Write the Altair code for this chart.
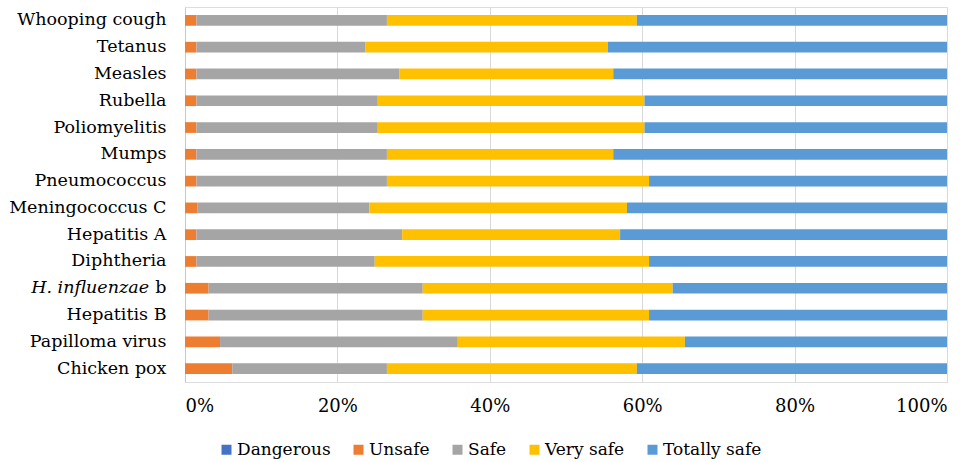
import altair as alt
import pandas as pd

# Vaccines, top to bottom
vaccines = [
    "Whooping cough", "Tetanus", "Measles", "Rubella", "Poliomyelitis",
    "Mumps", "Pneumococcus", "Meningococcus C", "Hepatitis A", "Diphtheria",
    "H. influenzae b", "Hepatitis B", "Papilloma virus", "Chicken pox",
]
ratings = ["Dangerous", "Unsafe", "Safe", "Very safe", "Totally safe"]
palette = ["#4472C4", "#ED7D31", "#A5A5A5", "#FFC000", "#5B9BD5"]

# Share of answers (%) per rating, one entry per vaccine
dangerous = [0, 0, 0, 0, 0, 0, 0, 0, 0, 0, 0, 0, 0, 0]
unsafe = [1.5, 1.5, 1.5, 1.5, 1.5, 1.5, 1.5, 1.6, 1.5, 1.5, 3.1, 3.1, 4.6, 6.2]
safe = [25.0, 22.2, 26.6, 23.8, 23.8, 25.0, 25.0, 22.6, 27.0, 23.4, 28.1, 28.1, 31.2, 20.3]
very_safe = [32.8, 31.8, 28.1, 35.0, 35.0, 29.7, 34.4, 33.8, 28.6, 36.0, 32.8, 29.7, 29.8, 32.8]
totally_safe = [40.7, 44.5, 43.8, 39.7, 39.7, 43.8, 39.1, 42.0, 42.9, 39.1, 36.0, 39.1, 34.4, 40.7]

series = [dangerous, unsafe, safe, very_safe, totally_safe]
rows = []
for k, (rating, values) in enumerate(zip(ratings, series)):
    for vaccine, v in zip(vaccines, values):
        rows.append({"vaccine": vaccine, "rating": rating, "order": k, "share": v})
df = pd.DataFrame(rows)

FONT = "DejaVu Serif"
FS = 17.5
ITALIC_NAME = "H. influenzae b"

y_enc = alt.Y(
    "vaccine:N",
    sort=vaccines,
    title=None,
    scale=alt.Scale(paddingInner=0.6, paddingOuter=0.3),
    axis=alt.Axis(
        labelFont=FONT, labelFontSize=FS, labelColor="#000000",
        labelPadding=19, ticks=False, domainColor="#C8C8C8", domainWidth=1,
        labelExpr=f"datum.value == '{ITALIC_NAME}' ? 'b' : datum.value",
        grid=False,
    ),
)

bars = alt.Chart(df).mark_bar().encode(
    y=y_enc,
    x=alt.X(
        "share:Q",
        stack="normalize",
        title=None,
        scale=alt.Scale(domain=[0, 1], nice=False),
        axis=alt.Axis(
            values=[0, 0.2, 0.4, 0.6, 0.8, 1.0], format=".0%",
            labelFont=FONT, labelFontSize=18, labelColor="#000000",
            labelPadding=15, ticks=False, domain=False,
            grid=True, gridColor="#D9D9D9", gridWidth=1,
        ),
    ),
    color=alt.Color(
        "rating:N",
        sort=ratings,
        title=None,
        scale=alt.Scale(domain=ratings, range=palette),
        legend=alt.Legend(
            orient="none", direction="horizontal", legendX=33, legendY=434,
            labelFont=FONT, labelFontSize=17, labelColor="#000000",
            symbolType="square", symbolSize=100, symbolStrokeWidth=0,
            labelOffset=2, columnPadding=19, padding=0,
        ),
    ),
    order=alt.Order("order:Q"),
)

# Italic genus/species part of the Hib label
italic_label = alt.Chart(pd.DataFrame({"vaccine": [ITALIC_NAME], "text": ["H. influenzae"]})).mark_text(
    align="right", baseline="middle", font=FONT, fontSize=FS, fontStyle="italic", color="#000000",
).encode(
    y=alt.Y("vaccine:N", sort=vaccines),
    x=alt.value(-36),
    text="text:N",
)

chart = (
    alt.layer(bars, italic_label)
    .properties(
        width=762,
        height=375,
        autosize=alt.AutoSizeParams(type="none"),
        padding={"left": 185, "top": 7, "right": 29, "bottom": 80},
    )
    .configure_view(stroke=None)
    .configure_legend(labelFont=FONT)
    .configure(background="#FFFFFF")
)

chart.save("out.html", embed_options={"renderer": "svg", "actions": False})
